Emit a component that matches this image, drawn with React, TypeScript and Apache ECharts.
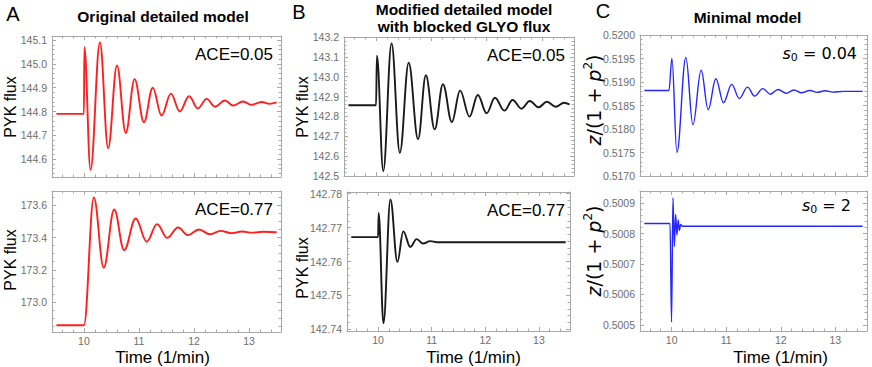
import React, { useEffect, useRef } from 'react';
import * as echarts from 'echarts';

// ---------------- data ----------------
const timeTicks = [10, 11, 12, 13];

const aTopTicks = [144.6, 144.7, 144.8, 144.9, 145.0, 145.1];
const aBottomTicks = [173.0, 173.2, 173.4, 173.6];
const bTopTicks = [142.5, 142.6, 142.7, 142.8, 142.9, 143.0, 143.1, 143.2];
const bBottomTicks = [142.74, 142.75, 142.76, 142.77, 142.78];
const cTopTicks = [0.517, 0.5175, 0.518, 0.5185, 0.519, 0.5195, 0.52];
const cBottomTicks = [0.5005, 0.5006, 0.5007, 0.5008, 0.5009];

// [time (1/min), value]
const aTopFlux = [
  [9.5, 144.79], [10.0, 144.79], [10.008, 145.07], [10.12, 144.555], [10.29, 145.09],
  [10.44, 144.646], [10.6, 144.993], [10.76, 144.71], [10.92, 144.936], [11.09, 144.755],
  [11.25, 144.9], [11.41, 144.783], [11.58, 144.875], [11.74, 144.8], [11.91, 144.864],
  [12.07, 144.813], [12.23, 144.853], [12.38, 144.82], [12.56, 144.846], [12.71, 144.825],
  [12.89, 144.842], [13.04, 144.828], [13.23, 144.84], [13.37, 144.832], [13.5, 144.838],
];
const aBottomFlux = [
  [9.5, 172.857], [10.0, 172.857], [10.18, 173.648], [10.36, 173.213], [10.55, 173.573],
  [10.73, 173.322], [10.94, 173.518], [11.14, 173.374], [11.33, 173.483], [11.51, 173.398],
  [11.71, 173.462], [11.89, 173.415], [12.09, 173.45], [12.29, 173.42], [12.48, 173.441],
  [12.68, 173.427], [12.87, 173.437], [13.06, 173.43], [13.25, 173.436], [13.5, 173.433],
];
const bTopFlux = [
  [9.5, 142.856], [10.0, 142.856], [10.015, 143.106], [10.13, 142.525], [10.28, 143.168],
  [10.43, 142.617], [10.59, 143.07], [10.76, 142.685], [10.9, 143.007], [11.06, 142.735],
  [11.21, 142.962], [11.37, 142.772], [11.52, 142.93], [11.69, 142.799], [11.84, 142.908],
  [12.0, 142.816], [12.15, 142.894], [12.32, 142.829], [12.47, 142.883], [12.63, 142.839],
  [12.78, 142.878], [12.94, 142.846], [13.09, 142.874], [13.25, 142.849], [13.4, 142.869],
  [13.5, 142.86],
];
const bBottomFlux = [
  [9.5, 142.7672], [10.0, 142.7672], [10.01, 142.7743], [10.1, 142.7418], [10.23, 142.7783],
  [10.36, 142.7599], [10.47, 142.7689], [10.6, 142.7643], [10.72, 142.7666], [10.84, 142.7653],
  [10.97, 142.766], [11.1, 142.7657], [13.5, 142.7657],
];
const cTopRatio = [
  [9.5, 0.51882], [9.95, 0.51882], [10.005, 0.5195], [10.096, 0.5175], [10.26, 0.51952],
  [10.39, 0.51809], [10.54, 0.51925], [10.67, 0.51841], [10.81, 0.51907], [10.95, 0.51856],
  [11.1, 0.51895], [11.24, 0.51865], [11.39, 0.51889], [11.52, 0.5187], [11.67, 0.51886],
  [11.81, 0.51874], [11.95, 0.51884], [12.1, 0.51876], [12.24, 0.51883], [12.38, 0.51877],
  [12.53, 0.51882], [12.67, 0.51878], [12.81, 0.518815], [12.95, 0.518785], [13.15, 0.5188],
  [13.5, 0.5188],
];
const cBottomRatio = [
  [9.5, 0.500833], [9.97, 0.500833], [9.998, 0.500509], [10.024, 0.500918], [10.049, 0.500758],
  [10.073, 0.500863], [10.097, 0.500795], [10.12, 0.500845], [10.142, 0.50081], [10.165, 0.50083],
  [10.2, 0.500824], [13.5, 0.500824],
];

// ---------------- style / layout ----------------
const X_MIN = 9.42;
const X_MAX = 13.58;
const FRAME = '#a8a8a8';
const LABEL = '#6e6e6e';
const SANS = "'Liberation Sans', Arial, Helvetica, sans-serif";
const DEJAVU = "'DejaVu Sans', sans-serif";
const RED = '#ff1f1f';
const BLACK = '#1a1a1a';
const BLUE = '#2626ff';

type Panel = {
  grid: { left: number; top: number; width: number; height: number };
  yMin: number; yMax: number; yTicks: number[]; yDec: number; yMinorN: number;
  data: number[][]; color: string; lw: number; showX: boolean;
};

const panels: Panel[] = [
  { grid: { left: 52, top: 36, width: 229, height: 141 }, yMin: 144.525, yMax: 145.117, yTicks: aTopTicks, yDec: 1, yMinorN: 5, data: aTopFlux, color: RED, lw: 1.9, showX: false },
  { grid: { left: 52, top: 191, width: 229, height: 141 }, yMin: 172.815, yMax: 173.688, yTicks: aBottomTicks, yDec: 1, yMinorN: 4, data: aBottomFlux, color: RED, lw: 1.9, showX: true },
  { grid: { left: 344, top: 37, width: 230, height: 139 }, yMin: 142.5, yMax: 143.2, yTicks: bTopTicks, yDec: 1, yMinorN: 5, data: bTopFlux, color: BLACK, lw: 1.9, showX: false },
  { grid: { left: 347, top: 192, width: 223, height: 139 }, yMin: 142.7395, yMax: 142.7805, yTicks: bBottomTicks, yDec: 2, yMinorN: 5, data: bBottomFlux, color: BLACK, lw: 1.9, showX: true },
  { grid: { left: 640, top: 35, width: 227, height: 141 }, yMin: 0.517, yMax: 0.52, yTicks: cTopTicks, yDec: 4, yMinorN: 5, data: cTopRatio, color: BLUE, lw: 1.4, showX: false },
  { grid: { left: 640, top: 191, width: 227, height: 140 }, yMin: 0.50048, yMax: 0.50094, yTicks: cBottomTicks, yDec: 4, yMinorN: 5, data: cBottomRatio, color: BLUE, lw: 1.4, showX: true },
];

function minorValues(major: number[], n: number, min: number, max: number) {
  const step = (major[1] - major[0]) / n;
  const out: number[] = [];
  const start = Math.ceil((min - major[0]) / step - 1e-9);
  const end = Math.floor((max - major[0]) / step + 1e-9);
  for (let k = start; k <= end; k++) {
    if (k % n === 0) continue;
    const v = major[0] + k * step;
    if (v > min && v < max) out.push(+v.toFixed(10));
  }
  return out;
}

function buildOption() {
  const grids: any[] = [];
  const xAxes: any[] = [];
  const yAxes: any[] = [];
  const series: any[] = [];
  const xMinor = minorValues(timeTicks, 5, X_MIN, X_MAX);

  panels.forEach((p, gi) => {
    grids.push({ ...p.grid, containLabel: false, outerBoundsMode: 'none', show: false });
    const lineOn = { show: true, onZero: false, lineStyle: { color: FRAME, width: 1 } };
    const lineOff = { show: false, onZero: false };
    const majTick = (vals: number[]) => ({ show: true, inside: true, length: 4, customValues: vals, lineStyle: { color: FRAME, width: 1 } });
    const minTick = (vals: number[]) => ({ show: true, inside: true, length: 2.5, customValues: vals, lineStyle: { color: FRAME, width: 1 } });
    const xb = { type: 'value', gridIndex: gi, min: X_MIN, max: X_MAX, splitLine: { show: false } };
    xAxes.push(
      { ...xb, position: 'bottom', axisLine: lineOn, axisTick: majTick(timeTicks),
        axisLabel: { show: p.showX, customValues: timeTicks, margin: 3, color: LABEL, fontSize: 10.5, fontFamily: SANS, formatter: (v: number) => String(Math.round(v)) } },
      { ...xb, position: 'top', axisLine: lineOn, axisTick: majTick(timeTicks), axisLabel: { show: false } },
      { ...xb, position: 'bottom', axisLine: lineOff, axisTick: minTick(xMinor), axisLabel: { show: false } },
      { ...xb, position: 'top', axisLine: lineOff, axisTick: minTick(xMinor), axisLabel: { show: false } },
    );
    const yMinor = minorValues(p.yTicks, p.yMinorN, p.yMin, p.yMax);
    const yb = { type: 'value', gridIndex: gi, min: p.yMin, max: p.yMax, splitLine: { show: false }, scale: true };
    yAxes.push(
      { ...yb, position: 'left', axisLine: lineOn, axisTick: majTick(p.yTicks),
        axisLabel: { show: true, customValues: p.yTicks, margin: 5, color: LABEL, fontSize: 10.5, fontFamily: SANS, formatter: (v: number) => v.toFixed(p.yDec) } },
      { ...yb, position: 'right', axisLine: lineOn, axisTick: majTick(p.yTicks), axisLabel: { show: false } },
      { ...yb, position: 'left', axisLine: lineOff, axisTick: minTick(yMinor), axisLabel: { show: false } },
      { ...yb, position: 'right', axisLine: lineOff, axisTick: minTick(yMinor), axisLabel: { show: false } },
    );
    series.push({
      type: 'line', xAxisIndex: gi * 4, yAxisIndex: gi * 4, data: p.data,
      showSymbol: false, symbol: 'none', smooth: 0.38, smoothMonotone: 'x', clip: true,
      lineStyle: { color: p.color, width: p.lw }, silent: true,
    });
  });

  const txt = (x: number, y: number, text: string, style: any = {}, rotation = 0) => ({
    type: 'text', x, y, rotation, silent: true,
    style: { text, fill: '#000', fontFamily: SANS, fontSize: 16, align: 'center', verticalAlign: 'middle', ...style },
  });
  const titleStyle = { fontSize: 15.5, fontWeight: 'bold' };
  const richC = {
    i: { fontFamily: DEJAVU, fontSize: 19, fontStyle: 'italic', lineHeight: 24 },
    n: { fontFamily: DEJAVU, fontSize: 19, lineHeight: 24 },
    sup: { fontFamily: DEJAVU, fontSize: 12, verticalAlign: 'top', lineHeight: 14 },
  };
  const richS = {
    i: { fontFamily: DEJAVU, fontSize: 16, fontStyle: 'italic', lineHeight: 20 },
    n: { fontFamily: DEJAVU, fontSize: 16, lineHeight: 20 },
    sub: { fontFamily: DEJAVU, fontSize: 11, verticalAlign: 'bottom', lineHeight: 14 },
  };
  const zName = '{i|z}{n|/(1 + }{i|p}{sup|2}{n|)}';

  const graphic = [
    txt(13, 14, 'A', { fontSize: 20 }),
    txt(299, 12, 'B', { fontSize: 20 }),
    txt(603, 11, 'C', { fontSize: 20 }),
    txt(163, 16, 'Original detailed model', titleStyle),
    txt(464, 9, 'Modified detailed model', titleStyle),
    txt(464, 26, 'with blocked GLYO flux', titleStyle),
    txt(747.5, 17, 'Minimal model', titleStyle),
    txt(10, 107, 'PYK flux', {}, Math.PI / 2),
    txt(10, 260, 'PYK flux', {}, Math.PI / 2),
    txt(302.5, 107, 'PYK flux', {}, Math.PI / 2),
    txt(302.5, 268, 'PYK flux', {}, Math.PI / 2),
    txt(593.5, 100, zName, { rich: richC }, Math.PI / 2),
    txt(593.5, 251, zName, { rich: richC }, Math.PI / 2),
    txt(162.5, 357, 'Time (1/min)', { fontSize: 17 }),
    txt(473.5, 357, 'Time (1/min)', { fontSize: 17 }),
    txt(780.5, 357, 'Time (1/min)', { fontSize: 17 }),
    txt(273, 54, 'ACE=0.05', { fontSize: 17, align: 'right' }),
    txt(273, 209, 'ACE=0.77', { fontSize: 17, align: 'right' }),
    txt(565, 55, 'ACE=0.05', { fontSize: 17, align: 'right' }),
    txt(565, 210, 'ACE=0.77', { fontSize: 17, align: 'right' }),
    txt(857, 53, '{i|s}{sub|0}{n| = 0.04}', { align: 'right', rich: richS }),
    txt(851, 205, '{i|s}{sub|0}{n| = 2}', { align: 'right', rich: richS }),
  ];

  return {
    animation: false,
    backgroundColor: '#ffffff',
    textStyle: { fontFamily: SANS },
    grid: grids,
    xAxis: xAxes,
    yAxis: yAxes,
    series,
    graphic,
  };
}

export default function App() {
  const ref = useRef<HTMLDivElement>(null);
  useEffect(() => {
    if (!ref.current) return;
    const chart = echarts.init(ref.current, undefined, { renderer: 'svg' });
    chart.setOption(buildOption() as any);
    return () => chart.dispose();
  }, []);
  return (
    <div
      ref={ref}
      style={{ position: 'fixed', left: 0, top: 0, width: 872, height: 367, background: '#fff' }}
    />
  );
}
